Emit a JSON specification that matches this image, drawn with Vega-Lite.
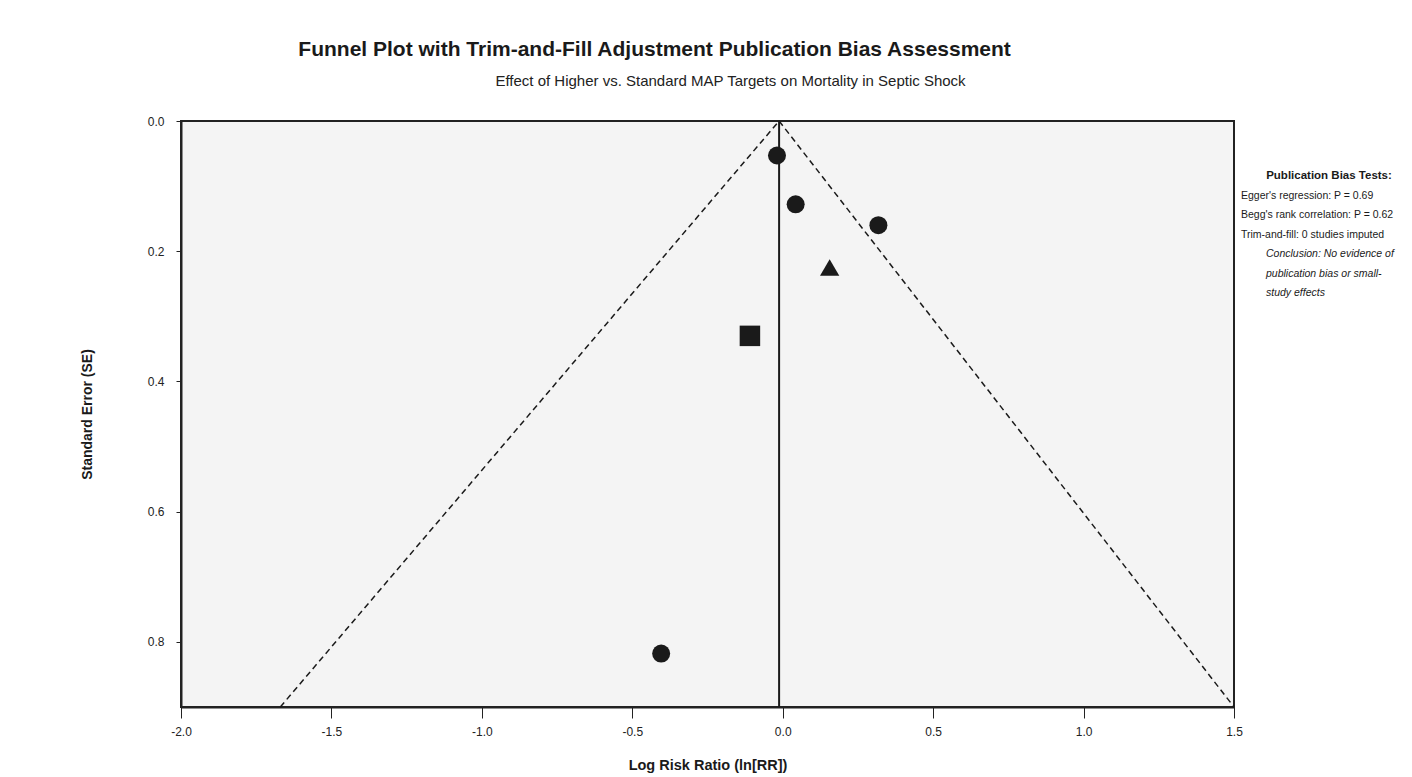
{
  "$schema": "https://vega.github.io/schema/vega-lite/v6.json",
  "background": "white",
  "padding": {"left": 79, "top": 39, "right": 0, "bottom": 0},
  "config": {"font": "Liberation Sans", "view": {"stroke": null}},
  "bounds": "flush",
  "title": {
    "text": "Funnel Plot with Trim-and-Fill Adjustment Publication Bias Assessment",
    "fontSize": 21, "fontWeight": "bold", "color": "#1a1a1a",
    "anchor": "start", "dx": 219, "offset": 13
  },
  "datasets": {
    "studies": [
      {"study": "Study 1", "logRR": -0.019, "se": 0.053, "design": "A"},
      {"study": "Study 2", "logRR": 0.043, "se": 0.128, "design": "A"},
      {"study": "Study 3", "logRR": 0.318, "se": 0.160, "design": "A"},
      {"study": "Study 4", "logRR": 0.156, "se": 0.225, "design": "B"},
      {"study": "Study 5", "logRR": -0.109, "se": 0.330, "design": "C"},
      {"study": "Study 6", "logRR": -0.404, "se": 0.818, "design": "A"}
    ],
    "funnel": [
      {"side": "left", "logRR": -0.012, "se": 0},
      {"side": "left", "logRR": -1.67, "se": 0.9},
      {"side": "right", "logRR": -0.012, "se": 0},
      {"side": "right", "logRR": 1.5, "se": 0.9}
    ],
    "pooled": [
      {"logRR": -0.012, "se_top": 0, "se_bottom": 0.9}
    ],
    "notes": [
      {"order": 1, "kind": "header", "text": "Publication Bias Tests:"},
      {"order": 2, "kind": "test", "text": "Egger's regression: P = 0.69"},
      {"order": 3, "kind": "test", "text": "Begg's rank correlation: P = 0.62"},
      {"order": 4, "kind": "test", "text": "Trim-and-fill: 0 studies imputed"},
      {"order": 5, "kind": "conclusion", "text": "Conclusion: No evidence of"},
      {"order": 6, "kind": "conclusion", "text": "publication bias or small-"},
      {"order": 7, "kind": "conclusion", "text": "study effects"}
    ]
  },
  "spacing": 0,
  "hconcat": [
    {
      "width": 1053,
      "height": 586,
      "view": {"fill": "#f4f4f4", "stroke": "#222222", "strokeWidth": 2},
      "title": {
        "text": "Effect of Higher vs. Standard MAP Targets on Mortality in Septic Shock",
        "fontSize": 15, "fontWeight": "normal", "color": "#222222",
        "anchor": "middle", "frame": "group", "dx": 23, "offset": 26
      },
      "layer": [
        {
          "data": {"name": "funnel"},
          "mark": {"type": "line", "color": "#1a1a1a", "strokeWidth": 1.5, "strokeDash": [6, 4]},
          "encoding": {
            "x": {"field": "logRR", "type": "quantitative"},
            "y": {"field": "se", "type": "quantitative"},
            "detail": {"field": "side"}
          }
        },
        {
          "data": {"name": "pooled"},
          "mark": {"type": "rule", "color": "#1a1a1a", "strokeWidth": 2},
          "encoding": {
            "x": {"field": "logRR", "type": "quantitative"},
            "y": {"field": "se_top", "type": "quantitative"},
            "y2": {"field": "se_bottom"}
          }
        },
        {
          "data": {"name": "studies"},
          "mark": {"type": "point", "filled": true, "opacity": 1, "color": "#1a1a1a"},
          "encoding": {
            "x": {
              "field": "logRR", "type": "quantitative",
              "scale": {"domain": [-2, 1.5], "nice": false, "zero": false},
              "axis": {
                "title": "Log Risk Ratio (ln[RR])",
                "values": [-2, -1.5, -1, -0.5, 0, 0.5, 1, 1.5],
                "labelExpr": "replace(format(datum.value, '.1f'), '\u2212', '-')",
                "labelFlush": false, "grid": false,
                "domainColor": "#222222", "domainWidth": 2,
                "tickColor": "#222222", "tickSize": 11, "tickWidth": 1,
                "labelFontSize": 12, "labelColor": "#222222", "labelPadding": 8,
                "titleFontSize": 14.5, "titleFontWeight": "bold", "titleColor": "#1a1a1a", "titlePadding": 21
              }
            },
            "y": {
              "field": "se", "type": "quantitative",
              "scale": {"domain": [0, 0.9], "nice": false, "reverse": true},
              "axis": {
                "title": "Standard Error (SE)",
                "values": [0, 0.2, 0.4, 0.6, 0.8],
                "format": ".1f", "grid": false, "labelFlush": false,
                "domainColor": "#222222", "domainWidth": 2,
                "tickColor": "#222222", "tickSize": 5, "tickWidth": 1,
                "labelFontSize": 12, "labelColor": "#222222", "labelPadding": 12,
                "titleFontSize": 14, "titleFontWeight": "bold", "titleColor": "#1a1a1a", "titlePadding": 53
              }
            },
            "shape": {
              "field": "design", "type": "nominal",
              "scale": {"domain": ["A", "B", "C"], "range": ["circle", "triangle-up", "square"]},
              "legend": null
            },
            "size": {
              "field": "design", "type": "nominal",
              "scale": {"domain": ["A", "B", "C"], "range": [324, 420, 324]},
              "legend": null
            },
            "tooltip": [{"field": "study"}, {"field": "logRR"}, {"field": "se"}]
          }
        }
      ]
    },
    {
      "width": 175,
      "height": 586,
      "data": {"name": "notes"},
      "encoding": {
        "y": {
          "field": "order", "type": "ordinal",
          "scale": {"type": "point", "range": [55, 172], "padding": 0},
          "axis": null
        },
        "text": {"field": "text"}
      },
      "layer": [
        {
          "transform": [{"filter": "datum.kind === 'header'"}],
          "mark": {"type": "text", "x": 95, "align": "center", "baseline": "middle", "fontSize": 11.5, "fontWeight": "bold", "color": "#1a1a1a"}
        },
        {
          "transform": [{"filter": "datum.kind === 'test'"}],
          "mark": {"type": "text", "x": 7, "align": "left", "baseline": "middle", "fontSize": 10.5, "color": "#1a1a1a"}
        },
        {
          "transform": [{"filter": "datum.kind === 'conclusion'"}],
          "mark": {"type": "text", "x": 32, "align": "left", "baseline": "middle", "fontSize": 10.5, "fontStyle": "italic", "color": "#1a1a1a"}
        }
      ]
    }
  ]
}
